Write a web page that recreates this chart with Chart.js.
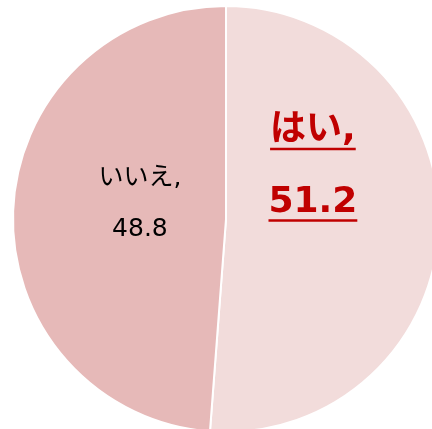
<!DOCTYPE html>
<html>
<head>
<meta charset="utf-8">
<script src="https://cdn.jsdelivr.net/npm/chart.js@4"></script>
<style>
  html, body { margin: 0; padding: 0; background: #fff; overflow: hidden; }
  #wrap { position: absolute; left: 0; top: 0; width: 452px; height: 438px; }
</style>
</head>
<body>
<div id="wrap"><canvas id="pie"></canvas></div>
<script>
const labels = ["はい", "いいえ"];
const values = [51.2, 48.8];
const colors = ["#f2dcdb", "#e6b9b8"];

// label placement, relative to pie centre in units of radius
const labelSpots = [
  { dx: 0.408, dy1: -0.413, dy2: -0.077, big: true },
  { dx: -0.404, dy1: -0.188, dy2: 0.047, big: false }
];

const pieLabels = {
  id: 'pieLabels',
  afterDatasetsDraw(chart) {
    const ctx = chart.ctx;
    const arcs = chart.getDatasetMeta(0).data;
    arcs.forEach((arc, i) => {
      const s = labelSpots[i];
      const r = arc.outerRadius;
      const x = arc.x + s.dx * r;
      const lines = [labels[i] + ",", String(values[i])];
      const ys = [arc.y + s.dy1 * r, arc.y + s.dy2 * r];
      ctx.save();
      ctx.textAlign = 'center';
      ctx.textBaseline = 'middle';
      if (s.big) {
        ctx.fillStyle = '#c00000';
        ctx.strokeStyle = '#c00000';
        ctx.font = "bold 36px 'DejaVu Sans', 'Noto Sans CJK JP'";
      } else {
        ctx.fillStyle = '#000';
        ctx.font = "25px 'DejaVu Sans', 'Noto Sans CJK JP'";
      }
      lines.forEach((t, k) => {
        ctx.fillText(t, x, ys[k]);
        if (s.big) {
          const w = ctx.measureText(t).width;
          ctx.lineWidth = 2.5;
          ctx.beginPath();
          ctx.moveTo(x - w / 2, ys[k] + 18);
          ctx.lineTo(x + w / 2, ys[k] + 18);
          ctx.stroke();
        }
      });
      ctx.restore();
    });
  }
};

new Chart(document.getElementById('pie'), {
  type: 'pie',
  data: {
    labels: labels,
    datasets: [{
      data: values,
      backgroundColor: colors,
      borderColor: '#ffffff',
      borderWidth: 2,
      radius: 213,
      hoverOffset: 0
    }]
  },
  options: {
    responsive: true,
    maintainAspectRatio: false,
    animation: false,
    events: [],
    layout: { padding: 0 },
    plugins: {
      legend: { display: false },
      tooltip: { enabled: false }
    }
  },
  plugins: [pieLabels]
});
</script>
</body>
</html>
